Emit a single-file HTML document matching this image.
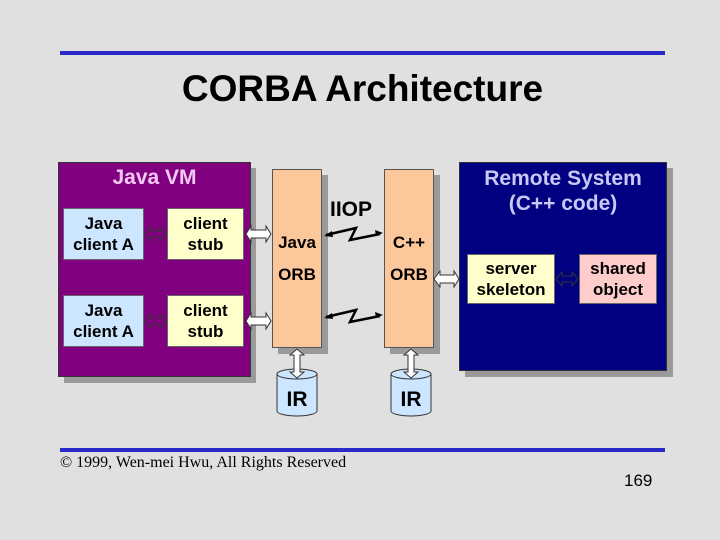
<!DOCTYPE html>
<html><head><style>
body{margin:0;width:720px;height:540px;background:#e0e0e0;font-family:"Liberation Sans",sans-serif;position:relative;overflow:hidden}
div{position:absolute;box-sizing:border-box}
.t{text-align:center;font-size:17px;line-height:21px;display:flex;align-items:center;justify-content:center;font-weight:bold}
</style></head><body>
<div style="left:60px;top:51px;width:605px;height:4px;background:#2a2ac8"></div>
<div style="left:0;top:68px;width:725px;text-align:center;font-weight:bold;font-size:37px">CORBA Architecture</div>

<div style="left:64px;top:168px;width:192px;height:215px;background:#9a9a9a"></div>
<div style="left:58px;top:162px;width:193px;height:215px;background:#800080;border:1px solid #333"></div>
<div style="left:58px;top:166px;width:193px;text-align:center;font-size:21px;font-weight:bold;color:#f4c8f4">Java VM</div>

<div style="left:465px;top:168px;width:208px;height:209px;background:#9a9a9a"></div>
<div style="left:459px;top:162px;width:208px;height:209px;background:#000080;border:1px solid #333"></div>
<div style="left:459px;top:166px;width:208px;text-align:center;font-size:21px;font-weight:bold;line-height:25px;color:#c8c8f4">Remote System<br>(C++ code)</div>

<div style="left:278px;top:175px;width:50px;height:179px;background:#9a9a9a"></div>
<div style="left:272px;top:169px;width:50px;height:179px;background:#fcc89b;border:1px solid #555"></div>
<div style="left:390px;top:175px;width:50px;height:179px;background:#9a9a9a"></div>
<div style="left:384px;top:169px;width:50px;height:179px;background:#fcc89b;border:1px solid #555"></div>
<div class="t" style="left:272px;top:232px;width:50px">Java</div>
<div class="t" style="left:272px;top:264px;width:50px">ORB</div>
<div class="t" style="left:384px;top:232px;width:50px">C++</div>
<div class="t" style="left:384px;top:264px;width:50px">ORB</div>
<div style="left:330px;top:198px;font-size:21px;font-weight:bold">IIOP</div>

<div class="t" style="left:63px;top:208px;width:81px;height:52px;background:#cce6ff;border:1px solid #666">Java<br>client A</div>
<div class="t" style="left:167px;top:208px;width:77px;height:52px;background:#ffffcc;border:1px solid #666">client<br>stub</div>
<div class="t" style="left:63px;top:295px;width:81px;height:52px;background:#cce6ff;border:1px solid #666">Java<br>client A</div>
<div class="t" style="left:167px;top:295px;width:77px;height:52px;background:#ffffcc;border:1px solid #666">client<br>stub</div>
<div class="t" style="left:467px;top:254px;width:88px;height:50px;background:#ffffcc;border:1px solid #666">server<br>skeleton</div>
<div class="t" style="left:579px;top:254px;width:78px;height:50px;background:#ffcccc;border:1px solid #666">shared<br>object</div>

<svg style="position:absolute;left:0;top:0" width="720" height="540">
<g fill="#fff" stroke="#333" stroke-width="1">
<path d="M145,234 l6,-7 v4 h9 v-4 l6,7 l-6,7 v-4 h-9 v4z" fill="#800080"/>
<path d="M145,321 l6,-7 v4 h9 v-4 l6,7 l-6,7 v-4 h-9 v4z" fill="#800080"/>
<path d="M556,279 l6,-7 v4 h10 v-4 l6,7 l-6,7 v-4 h-10 v4z" fill="#000080"/>
<path d="M246,234 l5,-8 v4 h15 v-4 l5,8 l-5,8 v-4 h-15 v4z"/>
<path d="M246,321 l5,-8 v4 h15 v-4 l5,8 l-5,8 v-4 h-15 v4z"/>
<path d="M434,279 l6,-8 v4 h14 v-4 l5,8 l-5,8 v-4 h-14 v4z"/>
</g>
<g fill="#cce6ff" stroke="#333">
<path d="M277,374 v37 a20,5 0 0 0 40,0 v-37"/>
<ellipse cx="297" cy="374" rx="20" ry="5"/>
<path d="M391,374 v37 a20,5 0 0 0 40,0 v-37"/>
<ellipse cx="411" cy="374" rx="20" ry="5"/>
</g>
<path d="M297,349 l-7,6 h4 v17 h-4 l7,6 l7,-6 h-4 v-17 h4z" fill="#fff" stroke="#333"/>
<path d="M411,349 l-7,6 h4 v17 h-4 l7,6 l7,-6 h-4 v-17 h4z" fill="#fff" stroke="#333"/>
<text x="297" y="406" text-anchor="middle" font-size="21" font-weight="bold" font-family="Liberation Sans">IR</text>
<text x="411" y="406" text-anchor="middle" font-size="21" font-weight="bold" font-family="Liberation Sans">IR</text>
<g stroke="#000" stroke-width="2.5" fill="none">
<path d="M326,235 L356,228 L350,240 L380,234"/>
<path d="M326,317 L356,310 L350,322 L380,316"/>
</g>
<g fill="#000">
<path d="M324,236 l8,-5 l1,6z"/><path d="M383,233 l-8,-3 l1,6z"/>
<path d="M324,318 l8,-5 l1,6z"/><path d="M383,315 l-8,-3 l1,6z"/>
</g>
</svg>

<div style="left:60px;top:448px;width:605px;height:4px;background:#2a2ac8"></div>
<div style="left:60px;top:454px;font-family:'Liberation Serif',serif;font-size:16px">© 1999, Wen-mei Hwu, All Rights Reserved</div>
<div style="left:624px;top:471px;font-size:17px">169</div>
</body></html>
